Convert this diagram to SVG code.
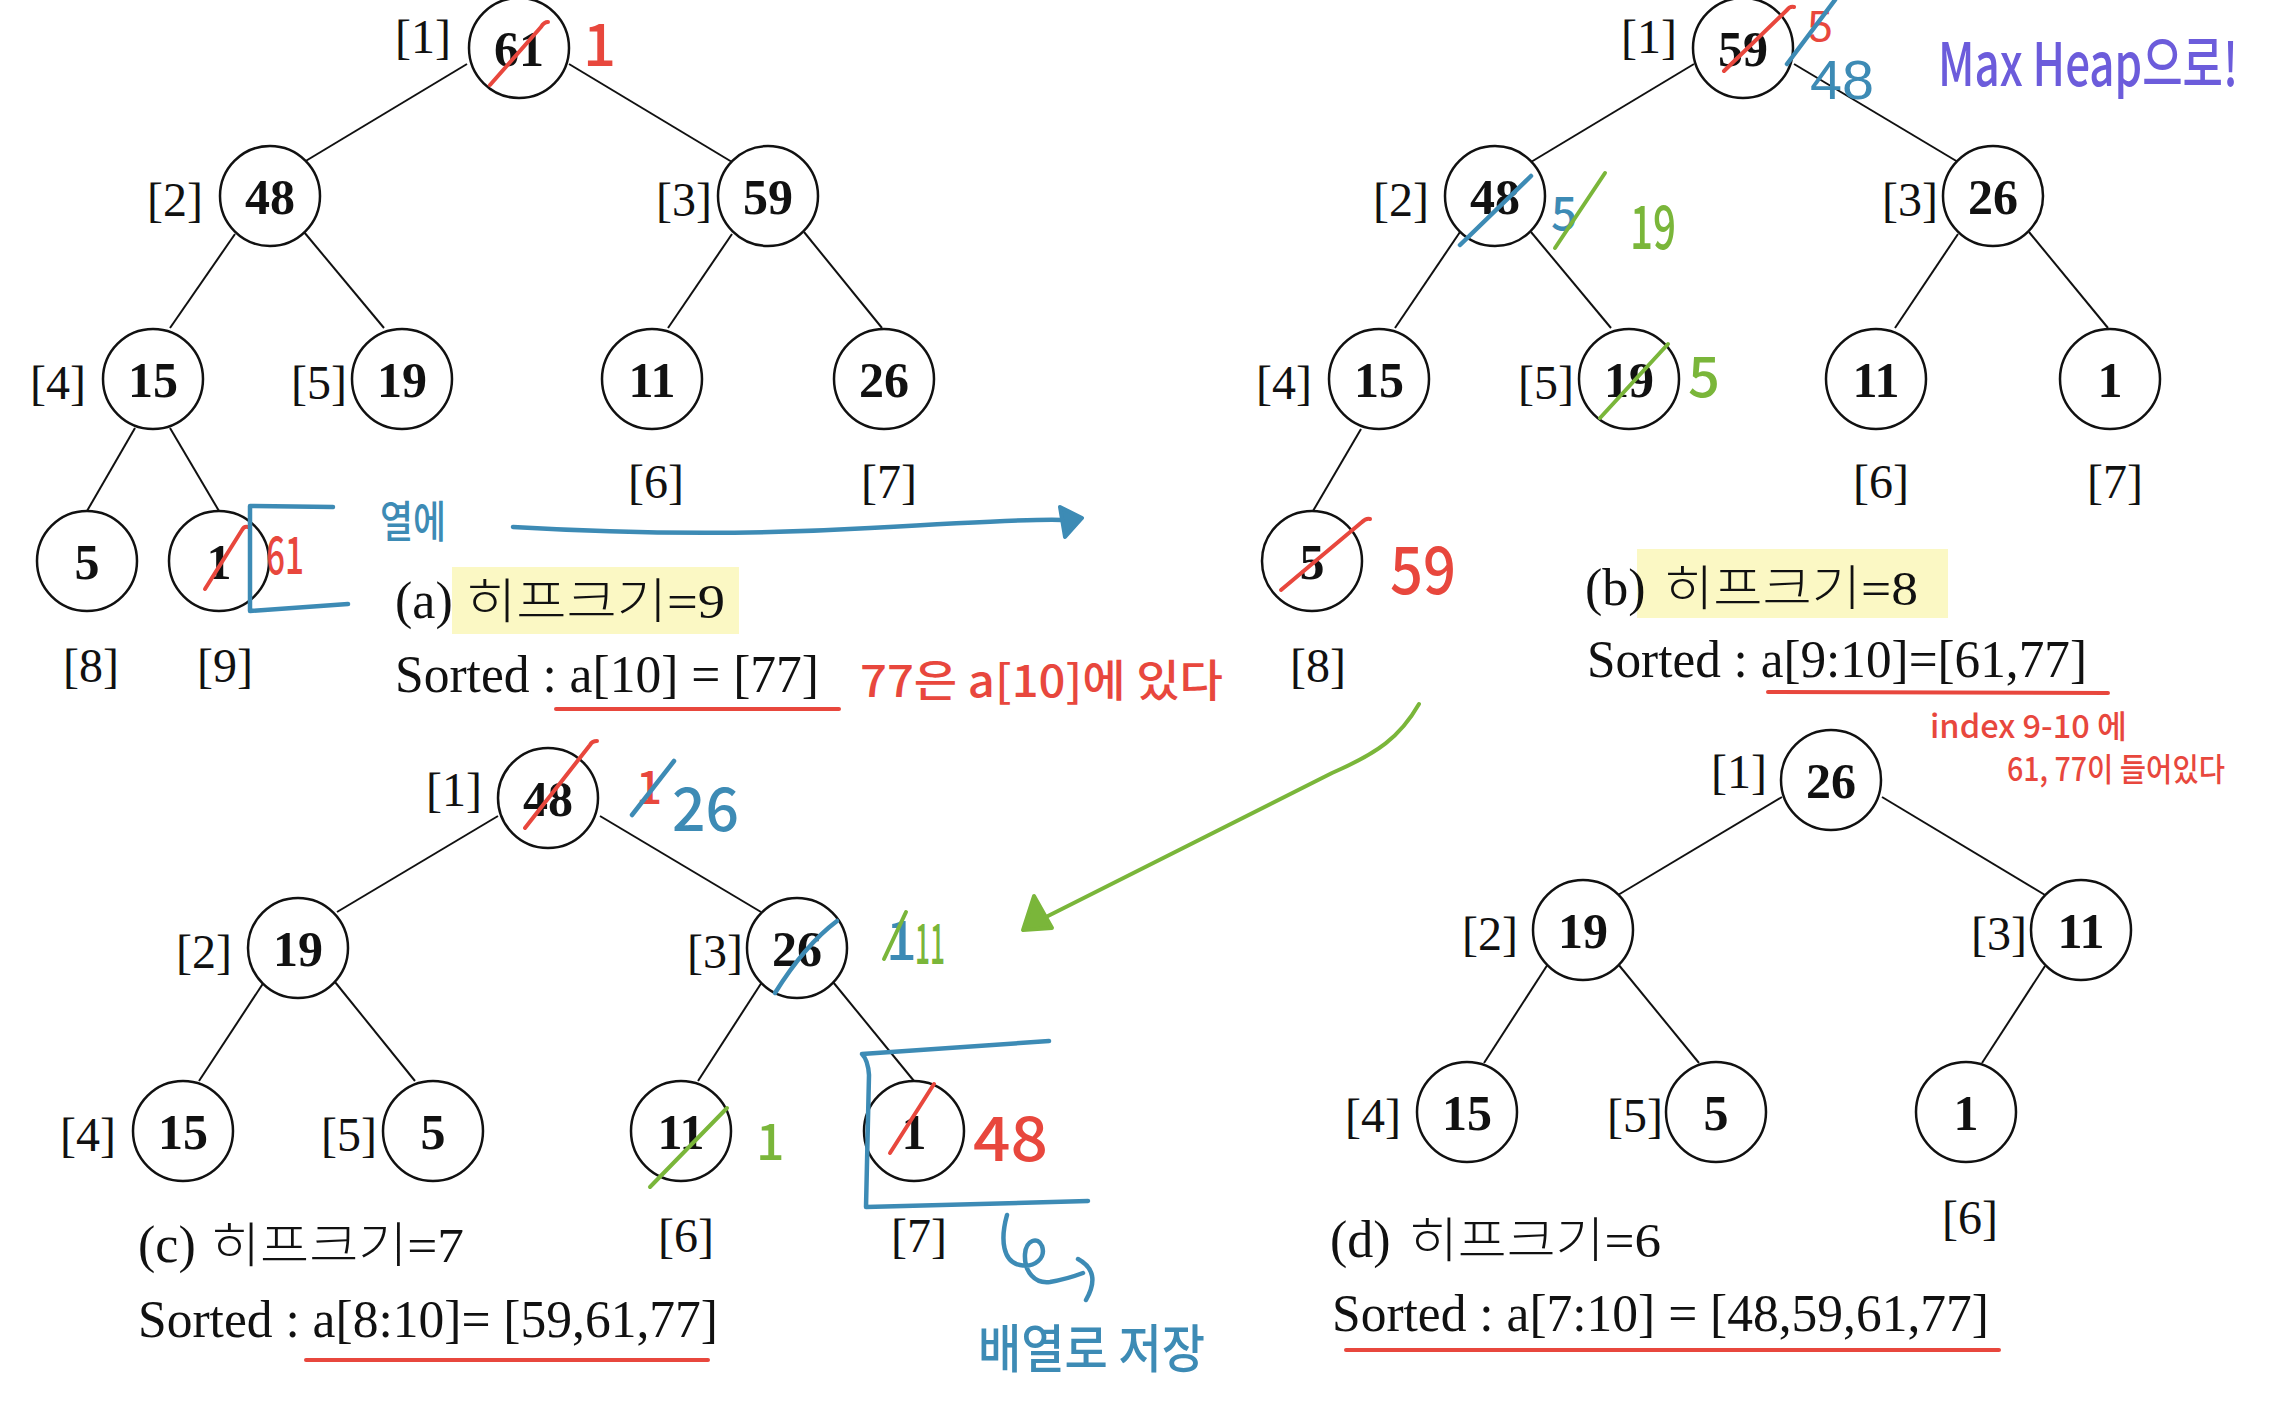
<svg xmlns="http://www.w3.org/2000/svg" width="2272" height="1407" viewBox="0 0 2272 1407">
<style>
  .bg { fill: #ffffff; }
  circle.n { fill: #ffffff; stroke: #111111; stroke-width: 2.5; }
  .num { font-family: "Liberation Serif", serif; font-weight: bold; font-size: 50px; fill: #111111; text-anchor: middle; }
  .idx { font-family: "Liberation Serif", serif; font-size: 48px; fill: #111111; }
  .cap { font-family: "Liberation Serif", serif; font-size: 52px; fill: #111111; }
  .kr { font-family: "Noto Sans CJK KR", sans-serif; font-weight: 300; font-size: 48px; fill: #111111; }
  .ser { font-family: "Liberation Serif", serif; font-weight: normal; }
  .edge { stroke: #111111; stroke-width: 2; fill: none; }
  .hl { fill: #FBF8C4; }
  .hw { font-family: "Noto Sans CJK KR", sans-serif; font-weight: 500; }
  .hs { font-family: "Liberation Sans", sans-serif; }
  .r { fill: #E8473D; }
  .b { fill: #3D8BB5; }
  .g { fill: #7AB63A; }
  .p { fill: #6C5CDB; }
  .sr { stroke: #E8473D; stroke-width: 4; fill: none; stroke-linecap: round; stroke-linejoin: round; }
  .sb { stroke: #3D8BB5; stroke-width: 4.5; fill: none; stroke-linecap: round; stroke-linejoin: round; }
  .sg { stroke: #7AB63A; stroke-width: 4; fill: none; stroke-linecap: round; stroke-linejoin: round; }
</style>
<rect class="bg" x="0" y="0" width="2272" height="1407"/>

<!-- highlights -->
<rect class="hl" x="452" y="567" width="287" height="67"/>
<rect class="hl" x="1637" y="549" width="311" height="69"/>

<!-- connectors -->
<g id="connectors">
  <path class="edge" d="M467,64 L304,162"/>
  <path class="edge" d="M569,64 L732,162"/>
  <path class="edge" d="M235,234 L170,328"/>
  <path class="edge" d="M304,232 L384,328"/>
  <path class="edge" d="M732,234 L668,328"/>
  <path class="edge" d="M804,232 L882,328"/>
  <path class="edge" d="M135,428 L87,511"/>
  <path class="edge" d="M170,428 L219,511"/>

  <path class="edge" d="M1694,64 L1531,162"/>
  <path class="edge" d="M1794,64 L1958,162"/>
  <path class="edge" d="M1460,232 L1395,328"/>
  <path class="edge" d="M1531,232 L1611,328"/>
  <path class="edge" d="M1958,234 L1895,328"/>
  <path class="edge" d="M2029,232 L2108,328"/>
  <path class="edge" d="M1361,429 L1313,511"/>

  <path class="edge" d="M498,816 L337,912"/>
  <path class="edge" d="M600,816 L761,912"/>
  <path class="edge" d="M264,982 L199,1081"/>
  <path class="edge" d="M335,982 L415,1081"/>
  <path class="edge" d="M762,982 L698,1081"/>
  <path class="edge" d="M833,982 L914,1081"/>

  <path class="edge" d="M1782,797 L1618,895"/>
  <path class="edge" d="M1882,797 L2045,895"/>
  <path class="edge" d="M1548,964 L1484,1063"/>
  <path class="edge" d="M1618,964 L1699,1063"/>
  <path class="edge" d="M2045,966 L1982,1063"/>
</g>

<!-- panel (a) nodes -->
<g id="a-n1"><circle class="n" cx="519" cy="48" r="50"/><text class="num" x="519" y="66">61</text><text class="idx" x="395" y="53">[1]</text></g>
<g id="a-n2"><circle class="n" cx="270" cy="196" r="50"/><text class="num" x="270" y="214">48</text><text class="idx" x="147" y="216">[2]</text></g>
<g id="a-n3"><circle class="n" cx="768" cy="196" r="50"/><text class="num" x="768" y="214">59</text><text class="idx" x="656" y="216">[3]</text></g>
<g id="a-n4"><circle class="n" cx="153" cy="379" r="50"/><text class="num" x="153" y="397">15</text><text class="idx" x="30" y="399">[4]</text></g>
<g id="a-n5"><circle class="n" cx="402" cy="379" r="50"/><text class="num" x="402" y="397">19</text><text class="idx" x="291" y="399">[5]</text></g>
<g id="a-n6"><circle class="n" cx="652" cy="379" r="50"/><text class="num" x="652" y="397">11</text><text class="idx" x="628" y="498">[6]</text></g>
<g id="a-n7"><circle class="n" cx="884" cy="379" r="50"/><text class="num" x="884" y="397">26</text><text class="idx" x="861" y="498">[7]</text></g>
<g id="a-n8"><circle class="n" cx="87" cy="561" r="50"/><text class="num" x="87" y="579">5</text><text class="idx" x="63" y="682">[8]</text></g>
<g id="a-n9"><circle class="n" cx="219" cy="561" r="50"/><text class="num" x="219" y="579">1</text><text class="idx" x="197" y="682">[9]</text></g>

<!-- panel (b) nodes -->
<g id="b-n1"><circle class="n" cx="1743" cy="48" r="50"/><text class="num" x="1743" y="66">59</text><text class="idx" x="1621" y="53">[1]</text></g>
<g id="b-n2"><circle class="n" cx="1495" cy="196" r="50"/><text class="num" x="1495" y="214">48</text><text class="idx" x="1373" y="216">[2]</text></g>
<g id="b-n3"><circle class="n" cx="1993" cy="196" r="50"/><text class="num" x="1993" y="214">26</text><text class="idx" x="1882" y="216">[3]</text></g>
<g id="b-n4"><circle class="n" cx="1379" cy="379" r="50"/><text class="num" x="1379" y="397">15</text><text class="idx" x="1256" y="399">[4]</text></g>
<g id="b-n5"><circle class="n" cx="1629" cy="379" r="50"/><text class="num" x="1629" y="397">19</text><text class="idx" x="1518" y="399">[5]</text></g>
<g id="b-n6"><circle class="n" cx="1876" cy="379" r="50"/><text class="num" x="1876" y="397">11</text><text class="idx" x="1853" y="498">[6]</text></g>
<g id="b-n7"><circle class="n" cx="2110" cy="379" r="50"/><text class="num" x="2110" y="397">1</text><text class="idx" x="2087" y="498">[7]</text></g>
<g id="b-n8"><circle class="n" cx="1312" cy="561" r="50"/><text class="num" x="1312" y="579">5</text><text class="idx" x="1290" y="682">[8]</text></g>

<!-- panel (c) nodes -->
<g id="c-n1"><circle class="n" cx="548" cy="798" r="50"/><text class="num" x="548" y="816">48</text><text class="idx" x="426" y="806">[1]</text></g>
<g id="c-n2"><circle class="n" cx="298" cy="948" r="50"/><text class="num" x="298" y="966">19</text><text class="idx" x="176" y="968">[2]</text></g>
<g id="c-n3"><circle class="n" cx="797" cy="948" r="50"/><text class="num" x="797" y="966">26</text><text class="idx" x="687" y="968">[3]</text></g>
<g id="c-n4"><circle class="n" cx="183" cy="1131" r="50"/><text class="num" x="183" y="1149">15</text><text class="idx" x="60" y="1151">[4]</text></g>
<g id="c-n5"><circle class="n" cx="433" cy="1131" r="50"/><text class="num" x="433" y="1149">5</text><text class="idx" x="321" y="1151">[5]</text></g>
<g id="c-n6"><circle class="n" cx="681" cy="1131" r="50"/><text class="num" x="681" y="1149">11</text><text class="idx" x="658" y="1252">[6]</text></g>
<g id="c-n7"><circle class="n" cx="914" cy="1131" r="50"/><text class="num" x="914" y="1149">1</text><text class="idx" x="891" y="1252">[7]</text></g>

<!-- panel (d) nodes -->
<g id="d-n1"><circle class="n" cx="1831" cy="780" r="50"/><text class="num" x="1831" y="798">26</text><text class="idx" x="1711" y="788">[1]</text></g>
<g id="d-n2"><circle class="n" cx="1583" cy="930" r="50"/><text class="num" x="1583" y="948">19</text><text class="idx" x="1462" y="950">[2]</text></g>
<g id="d-n3"><circle class="n" cx="2081" cy="930" r="50"/><text class="num" x="2081" y="948">11</text><text class="idx" x="1971" y="950">[3]</text></g>
<g id="d-n4"><circle class="n" cx="1467" cy="1112" r="50"/><text class="num" x="1467" y="1130">15</text><text class="idx" x="1345" y="1132">[4]</text></g>
<g id="d-n5"><circle class="n" cx="1716" cy="1112" r="50"/><text class="num" x="1716" y="1130">5</text><text class="idx" x="1607" y="1132">[5]</text></g>
<g id="d-n6"><circle class="n" cx="1966" cy="1112" r="50"/><text class="num" x="1966" y="1130">1</text><text class="idx" x="1942" y="1234">[6]</text></g>

<!-- captions -->
<g id="captions">
  <text class="cap" x="395" y="618">(a)</text>
  <text class="kr" x="466" y="618" textLength="259" lengthAdjust="spacingAndGlyphs">히프크기<tspan class="ser">=9</tspan></text>
  <text class="cap" x="395" y="692" textLength="424" lengthAdjust="spacingAndGlyphs">Sorted : a[10] = [77]</text>

  <text class="cap" x="1585" y="605">(b)</text>
  <text class="kr" x="1664" y="605" textLength="254" lengthAdjust="spacingAndGlyphs">히프크기<tspan class="ser">=8</tspan></text>
  <text class="cap" x="1587" y="677" textLength="500" lengthAdjust="spacingAndGlyphs">Sorted : a[9:10]=[61,77]</text>

  <text class="cap" x="138" y="1262">(c)</text>
  <text class="kr" x="211" y="1262" textLength="253" lengthAdjust="spacingAndGlyphs">히프크기<tspan class="ser">=7</tspan></text>
  <text class="cap" x="138" y="1337" textLength="580" lengthAdjust="spacingAndGlyphs">Sorted : a[8:10]= [59,61,77]</text>

  <text class="cap" x="1330" y="1257">(d)</text>
  <text class="kr" x="1409" y="1257" textLength="252" lengthAdjust="spacingAndGlyphs">히프크기<tspan class="ser">=6</tspan></text>
  <text class="cap" x="1332" y="1331" textLength="657" lengthAdjust="spacingAndGlyphs">Sorted : a[7:10] = [48,59,61,77]</text>
</g>

<!-- annotations -->
<g id="annotations">
  <!-- underlines -->
  <path class="sr" d="M556,709 L839,709" stroke-width="4"/>
  <path class="sr" d="M1768,692 L2108,693" stroke-width="2.5"/>
  <path class="sr" d="M306,1360 L708,1360" stroke-width="2.2"/>
  <path class="sr" d="M1346,1350 L1999,1350" stroke-width="5"/>

  <!-- panel a marks -->
  <path class="sr" d="M490,85 L541,27 Q544,22 548,22"/>
  <text class="hw r" x="583" y="66" font-size="58">1</text>
  <path class="sr" d="M205,589 L242,530 Q244,526 248,527"/>
  <path class="sb" d="M333,507 L250,506 L250,611 L348,604"/>
  <text class="hw r" x="266" y="574" font-size="52" textLength="38" lengthAdjust="spacingAndGlyphs">61</text>
  <text class="hw b" x="380" y="538" font-size="44" textLength="66" lengthAdjust="spacingAndGlyphs">열에</text>
  <text class="hw r" x="860" y="697" font-size="44" textLength="363" lengthAdjust="spacingAndGlyphs">77은 a[10]에 있다</text>
  <path class="sb" d="M513,527 Q700,538 870,528 T1064,520" stroke-width="5"/>
  <path d="M1060,507 L1082,518 L1065,537 Z" fill="#3D8BB5" stroke="#3D8BB5" stroke-width="4" stroke-linejoin="round"/>

  <!-- panel b marks -->
  <path class="sr" d="M1724,71 L1787,10 Q1790,6 1794,7"/>
  <text class="hs r" x="1808" y="42" font-size="44">5</text>
  <path class="sb" d="M1787,64 L1835,0"/>
  <text class="hs b" x="1810" y="99" font-size="56" textLength="64" lengthAdjust="spacingAndGlyphs">48</text>
  <text class="hw p" transform="translate(1938,86) scale(1,1.3)" x="0" y="0" font-size="46" textLength="300" lengthAdjust="spacingAndGlyphs">Max Heap으로!</text>
  <path class="sb" d="M1460,245 L1531,176"/>
  <text class="hw b" x="1551" y="230" font-size="46">5</text>
  <path class="sg" d="M1555,248 L1605,173"/>
  <text class="hw g" x="1630" y="249" font-size="60" textLength="46" lengthAdjust="spacingAndGlyphs">19</text>
  <path class="sg" d="M1600,418 L1668,344"/>
  <text class="hw g" x="1688" y="397" font-size="56">5</text>
  <path class="sr" d="M1281,590 L1362,522 Q1366,518 1370,519"/>
  <text class="hw r" x="1390" y="594" font-size="66" textLength="66" lengthAdjust="spacingAndGlyphs">59</text>
  <text class="hw r" x="1930" y="738" font-size="32" textLength="197" lengthAdjust="spacingAndGlyphs">index 9-10 에</text>
  <text class="hw r" x="2007" y="781" font-size="32" textLength="218" lengthAdjust="spacingAndGlyphs">61, 77이 들어있다</text>

  <!-- green arrow b to c -->
  <path class="sg" d="M1419,704 C1400,737 1378,753 1332,773 L1044,918" stroke-width="4.5"/>
  <path d="M1034,896 L1023,930 L1052,928 Z" fill="#7AB63A" stroke="#7AB63A" stroke-width="4" stroke-linejoin="round"/>

  <!-- panel c marks -->
  <path class="sr" d="M525,828 L590,745 Q592,741 597,741"/>
  <text class="hw r" x="636" y="804" font-size="46">1</text>
  <path class="sb" d="M632,815 L674,761"/>
  <text class="hw b" x="672" y="831" font-size="60" textLength="67" lengthAdjust="spacingAndGlyphs">26</text>
  <path class="sb" d="M775,993 Q805,945 837,921"/>
  <text class="hw b" x="886" y="960" font-size="54">1</text>
  <path class="sg" d="M884,959 L906,912"/>
  <text class="hw g" x="915" y="964" font-size="56" textLength="30" lengthAdjust="spacingAndGlyphs">11</text>
  <path class="sg" d="M650,1187 L727,1108"/>
  <text class="hw g" x="756" y="1160" font-size="50">1</text>
  <path class="sr" d="M890,1153 L934,1084"/>
  <text class="hw r" x="973" y="1161" font-size="62" textLength="75" lengthAdjust="spacingAndGlyphs">48</text>
  <path class="sb" d="M1049,1041 L862,1054 Q868,1060 869,1075 L866,1207 L1088,1201"/>
  <path class="sb" d="M1007,1215 C1000,1240 1003,1262 1020,1265 C1035,1268 1046,1258 1042,1246 C1038,1236 1026,1240 1025,1254 C1024,1272 1035,1284 1050,1282 C1062,1280 1075,1276 1083,1273"/>
  <path class="sb" d="M1078,1259 Q1102,1272 1086,1300"/>
  <text class="hw b" x="978" y="1368" font-size="52" textLength="227" lengthAdjust="spacingAndGlyphs">배열로 저장</text>
</g>
</svg>
